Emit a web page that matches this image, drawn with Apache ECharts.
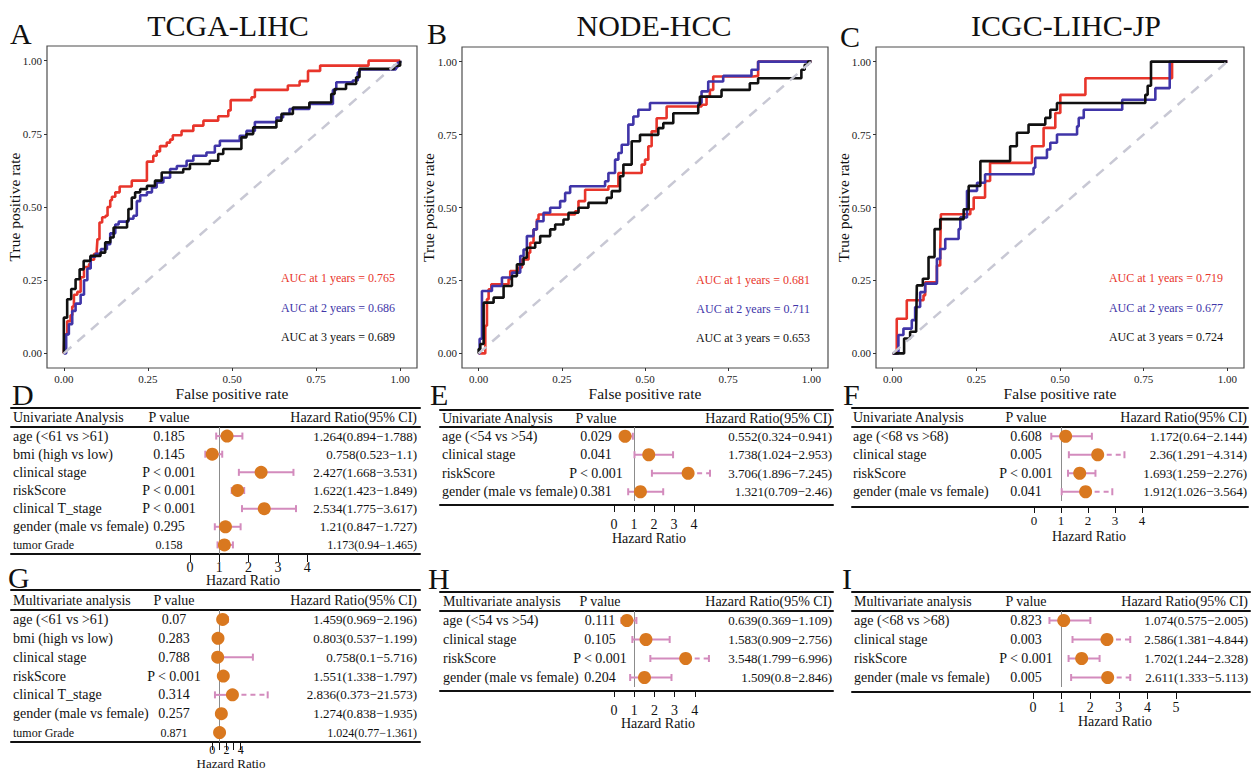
<!DOCTYPE html>
<html>
<head>
<meta charset="utf-8">
<script src="https://cdn.jsdelivr.net/npm/echarts@6/dist/echarts.min.js"></script>
<style>
html, body { margin: 0; padding: 0; background: #fff; }
#chart { width: 1255px; height: 770px; }
</style>
</head>
<body>
<div id="chart"></div>
<script>
// ---- ROC data (false positive rate, true positive rate) ----
const rocTitles = ['TCGA-LIHC', 'NODE-HCC', 'ICGC-LIHC-JP'];
const rocLetters = ['A', 'B', 'C'];
const rocYears = ['1 years', '2 years', '3 years'];
const rocTicks = [0, 0.25, 0.5, 0.75, 1];
const rocDiagonal = [[0, 0], [1, 1]];
const aucTcga = [0.765, 0.686, 0.689];
const aucNode = [0.681, 0.711, 0.653];
const aucIcgc = [0.719, 0.677, 0.724];

const tcga1y = [[0,0],[0.002,0.065],[0.01,0.11],[0.02,0.13],[0.025,0.16],[0.03,0.2],[0.04,0.21],[0.05,0.26],[0.06,0.295],[0.075,0.305],[0.08,0.32],[0.09,0.34],[0.098,0.355],[0.1,0.39],[0.106,0.447],[0.114,0.465],[0.124,0.47],[0.13,0.5],[0.138,0.523],[0.143,0.535],[0.153,0.55],[0.166,0.57],[0.202,0.59],[0.247,0.655],[0.266,0.675],[0.276,0.69],[0.286,0.708],[0.306,0.72],[0.316,0.73],[0.324,0.745],[0.35,0.76],[0.385,0.778],[0.415,0.795],[0.459,0.81],[0.489,0.83],[0.496,0.865],[0.558,0.875],[0.568,0.9],[0.666,0.915],[0.701,0.93],[0.726,0.965],[0.762,0.983],[0.906,1],[1,1]];
const tcga2y = [[0,0],[0.007,0.065],[0.015,0.1],[0.025,0.145],[0.035,0.17],[0.05,0.2],[0.06,0.25],[0.07,0.29],[0.08,0.33],[0.094,0.34],[0.11,0.356],[0.128,0.373],[0.138,0.41],[0.153,0.44],[0.163,0.45],[0.192,0.46],[0.207,0.47],[0.217,0.52],[0.227,0.54],[0.247,0.55],[0.262,0.567],[0.276,0.584],[0.296,0.6],[0.316,0.63],[0.336,0.64],[0.365,0.658],[0.385,0.675],[0.424,0.686],[0.449,0.709],[0.464,0.726],[0.523,0.743],[0.543,0.76],[0.568,0.79],[0.632,0.806],[0.652,0.818],[0.671,0.835],[0.73,0.852],[0.8,0.9],[0.81,0.926],[0.859,0.932],[0.874,0.96],[0.879,0.97],[0.987,0.977],[0.992,0.993],[1,1]];
const tcga3y = [[0,0],[0,0.122],[0.01,0.185],[0.022,0.22],[0.035,0.253],[0.047,0.287],[0.059,0.316],[0.079,0.333],[0.109,0.344],[0.123,0.379],[0.138,0.396],[0.148,0.43],[0.188,0.453],[0.192,0.493],[0.202,0.532],[0.212,0.55],[0.227,0.561],[0.247,0.572],[0.271,0.59],[0.291,0.618],[0.355,0.63],[0.375,0.647],[0.434,0.658],[0.459,0.681],[0.474,0.698],[0.528,0.738],[0.543,0.749],[0.563,0.772],[0.632,0.795],[0.647,0.818],[0.681,0.84],[0.73,0.857],[0.795,0.886],[0.805,0.903],[0.839,0.92],[0.869,0.943],[0.879,0.972],[0.982,0.983],[1,1]];

const node1y = [[0,0],[0.02,0],[0.02,0.095],[0.025,0.186],[0.03,0.22],[0.038,0.237],[0.09,0.254],[0.095,0.282],[0.12,0.294],[0.13,0.322],[0.15,0.345],[0.155,0.379],[0.165,0.425],[0.175,0.459],[0.18,0.476],[0.29,0.487],[0.3,0.522],[0.32,0.561],[0.39,0.573],[0.42,0.618],[0.49,0.647],[0.5,0.664],[0.51,0.71],[0.52,0.761],[0.535,0.806],[0.565,0.846],[0.67,0.852],[0.685,0.88],[0.695,0.903],[0.705,0.949],[0.825,0.951],[0.84,1],[1,1]];
const node2y = [[0,0],[0.003,0.05],[0.01,0.214],[0.04,0.231],[0.07,0.26],[0.1,0.277],[0.125,0.334],[0.135,0.356],[0.145,0.402],[0.165,0.425],[0.175,0.453],[0.195,0.482],[0.215,0.499],[0.245,0.522],[0.26,0.55],[0.275,0.573],[0.38,0.59],[0.39,0.618],[0.41,0.664],[0.42,0.687],[0.43,0.715],[0.45,0.784],[0.465,0.812],[0.48,0.835],[0.515,0.858],[0.67,0.898],[0.69,0.932],[0.735,0.951],[0.82,0.972],[0.84,1],[1,1]];
const node3y = [[0,0],[0,0.015],[0.005,0.032],[0.015,0.174],[0.045,0.191],[0.075,0.231],[0.1,0.265],[0.115,0.305],[0.135,0.328],[0.145,0.362],[0.17,0.379],[0.185,0.402],[0.215,0.425],[0.23,0.442],[0.255,0.459],[0.27,0.482],[0.3,0.499],[0.33,0.516],[0.385,0.533],[0.4,0.556],[0.425,0.607],[0.435,0.647],[0.46,0.727],[0.485,0.749],[0.54,0.772],[0.555,0.789],[0.585,0.823],[0.66,0.852],[0.665,0.88],[0.73,0.903],[0.815,0.926],[0.84,0.943],[0.97,0.972],[0.98,0.989],[0.99,1],[1,1]];

const icgc1y = [[0,0],[0.012,0],[0.012,0.119],[0.042,0.182],[0.092,0.199],[0.097,0.244],[0.132,0.301],[0.142,0.358],[0.144,0.477],[0.232,0.494],[0.242,0.534],[0.276,0.591],[0.291,0.653],[0.416,0.71],[0.451,0.773],[0.486,0.824],[0.501,0.886],[0.576,0.943],[0.835,1],[1,1]];
const icgc2y = [[0,0],[0.017,0.063],[0.032,0.085],[0.057,0.114],[0.067,0.159],[0.082,0.21],[0.097,0.239],[0.132,0.324],[0.142,0.358],[0.157,0.392],[0.197,0.426],[0.202,0.466],[0.222,0.557],[0.252,0.585],[0.276,0.614],[0.421,0.636],[0.426,0.67],[0.461,0.699],[0.471,0.722],[0.491,0.75],[0.551,0.778],[0.556,0.807],[0.571,0.835],[0.686,0.869],[0.785,0.909],[0.828,1],[1,1]];
const icgc3y = [[0,0],[0.034,0],[0.034,0.051],[0.052,0.074],[0.07,0.085],[0.072,0.233],[0.09,0.256],[0.107,0.33],[0.125,0.426],[0.142,0.46],[0.212,0.494],[0.227,0.574],[0.262,0.659],[0.351,0.71],[0.371,0.756],[0.406,0.784],[0.456,0.807],[0.471,0.835],[0.491,0.858],[0.755,0.886],[0.762,0.917],[0.772,1],[1,1]];

// ---- Cox regression tables ----
const forestLetters = ['D', 'E', 'F', 'G', 'H', 'I'];
const uniHeader = ['Univariate Analysis', 'P value', 'Hazard Ratio(95% CI)'];
const multiHeader = ['Multivariate analysis', 'P value', 'Hazard Ratio(95% CI)'];

const tcgaVars = ['age (<61 vs >61)', 'bmi (high vs low)', 'clinical stage', 'riskScore', 'clinical T_stage', 'gender (male vs female)', 'tumor Grade'];
const tcgaUniP = ['0.185', '0.145', 'P < 0.001', 'P < 0.001', 'P < 0.001', '0.295', '0.158'];
const tcgaUniHR = [1.264, 0.758, 2.427, 1.622, 2.534, 1.21, 1.173];
const tcgaUniLow = [0.894, 0.523, 1.668, 1.423, 1.775, 0.847, 0.94];
const tcgaUniHigh = [1.788, 1.1, 3.531, 1.849, 3.617, 1.727, 1.465];
const tcgaUniDrawnEnd = [0, 0, 0, 0, 0, 0, 0];
const tcgaMultiP = ['0.07', '0.283', '0.788', 'P < 0.001', '0.314', '0.257', '0.871'];
const tcgaMultiHR = [1.459, 0.803, 0.758, 1.551, 2.836, 1.274, 1.024];
const tcgaMultiLow = [0.969, 0.537, 0.1, 1.338, 0.373, 0.838, 0.77];
const tcgaMultiHigh = [2.196, 1.199, 5.716, 1.797, 21.573, 1.935, 1.361];
const tcgaMultiDrawnEnd = [0, 0, 0, 0, 7.8, 0, 0];

const nodeVars = ['age (<54 vs >54)', 'clinical stage', 'riskScore', 'gender (male vs female)'];
const nodeUniP = ['0.029', '0.041', 'P < 0.001', '0.381'];
const nodeUniHR = [0.552, 1.738, 3.706, 1.321];
const nodeUniLow = [0.324, 1.024, 1.896, 0.709];
const nodeUniHigh = [0.941, 2.953, 7.245, 2.46];
const nodeUniDrawnEnd = [0, 0, 4.8, 0];
const nodeMultiP = ['0.111', '0.105', 'P < 0.001', '0.204'];
const nodeMultiHR = [0.639, 1.583, 3.548, 1.509];
const nodeMultiLow = [0.369, 0.909, 1.799, 0.8];
const nodeMultiHigh = [1.109, 2.756, 6.996, 2.846];
const nodeMultiDrawnEnd = [0, 0, 4.7, 0];

const icgcVars = ['age (<68 vs >68)', 'clinical stage', 'riskScore', 'gender (male vs female)'];
const icgcUniP = ['0.608', '0.005', 'P < 0.001', '0.041'];
const icgcUniHR = [1.172, 2.36, 1.693, 1.912];
const icgcUniLow = [0.64, 1.291, 1.259, 1.026];
const icgcUniHigh = [2.144, 4.314, 2.276, 3.564];
const icgcUniDrawnEnd = [0, 3.35, 0, 2.9];
const icgcMultiP = ['0.823', '0.003', 'P < 0.001', '0.005'];
const icgcMultiHR = [1.074, 2.586, 1.702, 2.611];
const icgcMultiLow = [0.575, 1.381, 1.244, 1.333];
const icgcMultiHigh = [2.005, 4.844, 2.328, 5.113];
const icgcMultiDrawnEnd = [0, 3.4, 0, 3.4];

const hrTicks4 = [0, 1, 2, 3, 4];
const hrTicks5 = [0, 1, 2, 3, 4, 5];
const hrLabelsSparse = [0, 2, 4];

// ---- styling ----
const serif = '"Liberation Serif", "Times New Roman", serif';
const rocColors = ['#e8352b', '#4035a8', '#111111'];
const pointColor = '#d9781f';
const ciColor = '#d38bbd';

const grids = [], xAxes = [], yAxes = [], series = [], graphics = [];

function text(str, x, y, size, align, color) {
    graphics.push({
        type: 'text', x: x, y: y, silent: true,
        style: { text: str, fill: color || '#111', font: size + 'px ' + serif,
                 textAlign: align, textVerticalAlign: 'middle', align: align, verticalAlign: 'middle' }
    });
}

function addRoc(box, curves, aucs, aucRight, aucYs, nameGapY) {
    const gi = grids.length;
    grids.push({ left: box[0], top: box[1], width: box[2], height: box[3], show: true,
                 borderColor: '#4d4d4d', borderWidth: 1.2, backgroundColor: 'transparent', outerBoundsMode: 'none' });
    const xi = xAxes.length, yi = yAxes.length;
    const tickStyle = { show: true, length: 3, customValues: rocTicks, lineStyle: { color: '#333', width: 1 } };
    const labelStyle = { customValues: rocTicks, formatter: v => v.toFixed(2), fontSize: 11, color: '#222', fontFamily: serif };
    const nameStyle = { fontSize: 15.5, fontFamily: serif, color: '#111' };
    xAxes.push({ type: 'value', gridIndex: gi, min: -0.05, max: 1.05,
        axisLine: { show: false, onZero: false }, axisTick: tickStyle,
        axisLabel: Object.assign({ margin: 5 }, labelStyle), splitLine: { show: false },
        name: 'False positive rate', nameLocation: 'middle', nameGap: 17, nameMoveOverlap: false,
        nameTextStyle: nameStyle });
    yAxes.push({ type: 'value', gridIndex: gi, min: -0.05, max: 1.05,
        axisLine: { show: false, onZero: false }, axisTick: tickStyle,
        axisLabel: Object.assign({ margin: 5 }, labelStyle), splitLine: { show: false },
        name: 'True positive rate', nameLocation: 'middle', nameGap: nameGapY, nameMoveOverlap: false,
        nameTextStyle: nameStyle });
    curves.forEach((c, i) => series.push({
        type: 'line', xAxisIndex: xi, yAxisIndex: yi, data: c, step: 'end', symbol: 'none',
        lineStyle: { color: rocColors[i], width: 2.6 }, z: 2 + i, silent: true
    }));
    series.push({ type: 'line', xAxisIndex: xi, yAxisIndex: yi, data: rocDiagonal, symbol: 'none',
        lineStyle: { color: '#c8c8d4', width: 2.5, type: [10, 8] }, z: 6, silent: true });
    aucs.forEach((a, i) => text('AUC at ' + rocYears[i] + ' = ' + a.toFixed(3), aucRight, aucYs[i], 12, 'right', rocColors[i]));
}

function renderCI(params, api) {
    const lo = api.value(0), row = api.value(1), hi = api.value(2), est = api.value(3), end = api.value(4);
    const clipped = end > 0;
    const pLo = api.coord([lo, row]);
    const pEst = api.coord([est, row]);
    const pEnd = api.coord([clipped ? end : hi, row]);
    const cap = 3.5;
    const st = { stroke: ciColor, lineWidth: 2 };
    const children = [
        { type: 'line', shape: { x1: pLo[0], y1: pLo[1], x2: clipped ? pEst[0] : pEnd[0], y2: pLo[1] }, style: st },
        { type: 'line', shape: { x1: pLo[0], y1: pLo[1] - cap, x2: pLo[0], y2: pLo[1] + cap }, style: st },
        { type: 'line', shape: { x1: pEnd[0], y1: pEnd[1] - cap, x2: pEnd[0], y2: pEnd[1] + cap }, style: st }
    ];
    if (clipped) {
        children.push({ type: 'line', shape: { x1: pEst[0], y1: pEst[1], x2: pEnd[0], y2: pEnd[1] },
                        style: { stroke: ciColor, lineWidth: 2, lineDash: [5, 4] } });
    }
    return { type: 'group', children: children };
}

function addColumns(gi, cols, lay, small, hrSize) {
    const first = yAxes.length;
    const fmt = (v, i) => (i === small ? '{s|' + v + '}' : v);
    const font = size => ({ fontFamily: serif, fontSize: size, color: '#111', interval: 0, formatter: fmt,
                            rich: { s: { fontFamily: serif, fontSize: 12, color: '#111' } } });
    const base = { type: 'category', gridIndex: gi, inverse: true,
                   axisLine: { show: false }, axisTick: { show: false }, splitLine: { show: false } };
    yAxes.push(Object.assign({}, base, { data: cols[0], position: 'left',
        axisLabel: Object.assign(font(14), { inside: true, margin: lay.nameX - lay.L, align: 'left' }) }));
    yAxes.push(Object.assign({}, base, { data: cols[1], position: 'left', offset: lay.L - lay.pCenter,
        axisLabel: Object.assign(font(14), { inside: true, margin: 0, align: 'center' }) }));
    yAxes.push(Object.assign({}, base, { data: cols[2], position: 'right',
        axisLabel: Object.assign(font(hrSize), { inside: true, margin: lay.R - lay.hrRight, align: 'right' }) }));
    return first;
}

function addForest(lay, header, vars, pvals, hr, lo, hi, drawnEnd) {
    const n = vars.length;
    const xmin = (lay.L - lay.x0) / lay.ppu, xmax = (lay.R - lay.x0) / lay.ppu;
    const width = lay.R - lay.L;
    const small = lay.smallLast ? n - 1 : -1;
    const lineOnly = { show: true, onZero: false, lineStyle: { color: '#111', width: 2 } };

    // header row
    const hg = grids.length;
    grids.push({ left: lay.L, top: lay.headTop, width: width, height: lay.bodyTop - lay.headTop, outerBoundsMode: 'none' });
    xAxes.push({ type: 'value', gridIndex: hg, position: 'top', min: xmin, max: xmax, axisLine: lineOnly,
                 axisTick: { show: false }, axisLabel: { show: false }, splitLine: { show: false } });
    addColumns(hg, [[header[0]], [header[1]], [header[2]]], lay, -1, 14);

    // body rows
    const bg = grids.length;
    const bodyH = n * lay.rowH;
    grids.push({ left: lay.L, top: lay.bodyTop, width: width, height: bodyH, outerBoundsMode: 'none' });
    const bx = xAxes.length;
    xAxes.push({ type: 'value', gridIndex: bg, position: 'bottom', offset: lay.lineY - (lay.bodyTop + bodyH),
        min: xmin, max: xmax, axisLine: lineOnly,
        axisTick: { show: true, length: lay.tickLen, customValues: lay.ticks, lineStyle: { color: '#111', width: 1 } },
        axisLabel: { customValues: lay.labels, margin: lay.labelGap, fontSize: lay.tickFont || 14, fontFamily: serif, color: '#111' },
        splitLine: { show: false } });
    xAxes.push({ type: 'value', gridIndex: bg, position: 'top', min: xmin, max: xmax, axisLine: lineOnly,
                 axisTick: { show: false }, axisLabel: { show: false }, splitLine: { show: false } });
    const hrText = hr.map((h, i) => h + '(' + lo[i] + '\u2212' + hi[i] + ')');
    const by = addColumns(bg, [vars, pvals, hrText], lay, small, 13);

    series.push({ type: 'custom', xAxisIndex: bx, yAxisIndex: by, renderItem: renderCI, silent: true, z: 3,
        data: vars.map((v, i) => [lo[i], i, hi[i], hr[i], drawnEnd[i]]) });
    series.push({ type: 'scatter', xAxisIndex: bx, yAxisIndex: by, silent: true, z: 4,
        data: hr.map((h, i) => [h, i]), symbolSize: 13, itemStyle: { color: pointColor, opacity: 1 },
        markLine: { silent: true, z: 1, symbol: ['none', 'none'], label: { show: false },
                    lineStyle: { color: '#8c8c8c', width: 1, type: 'solid' }, data: [{ xAxis: 1 }] } });
    text('Hazard Ratio', lay.nameCenter[0], lay.nameCenter[1], lay.nameFont || 14, 'center');
}

// ---- ROC panels ----
addRoc([47, 46, 370, 322], [tcga1y, tcga2y, tcga3y], aucTcga, 395, [278, 308, 337], 25);
addRoc([462, 47, 366, 321], [node1y, node2y, node3y], aucNode, 810, [280, 309, 338], 26);
addRoc([876, 47, 368, 321], [icgc1y, icgc2y, icgc3y], aucIcgc, 1223, [278, 308, 337], 25);

text(rocTitles[0], 228, 25, 30, 'center');
text(rocTitles[1], 654, 25, 30, 'center');
text(rocTitles[2], 1066, 25, 30, 'center');
text(rocLetters[0], 10, 33, 30, 'left');
text(rocLetters[1], 427, 33, 30, 'left');
text(rocLetters[2], 840, 36, 30, 'left');

// ---- forest panels ----
const layD = { L: 11, R: 420, nameX: 13, pCenter: 169, hrRight: 417, headTop: 408, bodyTop: 427, rowH: 18.14, lineY: 554,
               x0: 190, ppu: 29.3, ticks: hrTicks4, labels: hrTicks4, tickLen: 8, labelGap: 6, nameCenter: [243, 580], smallLast: true };
const layE = { L: 440, R: 833, nameX: 442, pCenter: 596, hrRight: 832, headTop: 410, bodyTop: 427, rowH: 18.5, lineY: 505,
               x0: 614, ppu: 20.0, ticks: hrTicks4, labels: hrTicks4, tickLen: 7, labelGap: 12, nameCenter: [649, 538] };
const layF = { L: 852, R: 1248, nameX: 853, pCenter: 1026, hrRight: 1247, headTop: 408, bodyTop: 427, rowH: 18.5, lineY: 507,
               x0: 1034, ppu: 27, ticks: hrTicks4, labels: hrTicks4, tickLen: 6, labelGap: 7, tickFont: 13, nameCenter: [1089, 536] };
const layG = { L: 11, R: 420, nameX: 13, pCenter: 174, hrRight: 417, headTop: 590, bodyTop: 610, rowH: 18.86, lineY: 742,
               x0: 212.3, ppu: 7.1, ticks: hrTicks4, labels: hrLabelsSparse, tickLen: 8, labelGap: 2, tickFont: 12,
               nameCenter: [231, 763], nameFont: 13, smallLast: true };
const layH = { L: 440, R: 833, nameX: 443, pCenter: 600, hrRight: 832, headTop: 592, bodyTop: 611, rowH: 19, lineY: 691,
               x0: 614, ppu: 20.2, ticks: hrTicks4, labels: hrTicks4, tickLen: 6, labelGap: 12, nameCenter: [658, 723] };
const layI = { L: 852, R: 1250, nameX: 854, pCenter: 1026, hrRight: 1248, headTop: 592, bodyTop: 611, rowH: 19, lineY: 692,
               x0: 1033, ppu: 28.6, ticks: hrTicks5, labels: hrTicks5, tickLen: 7, labelGap: 8, nameCenter: [1115, 721] };

addForest(layD, uniHeader, tcgaVars, tcgaUniP, tcgaUniHR, tcgaUniLow, tcgaUniHigh, tcgaUniDrawnEnd);
addForest(layE, uniHeader, nodeVars, nodeUniP, nodeUniHR, nodeUniLow, nodeUniHigh, nodeUniDrawnEnd);
addForest(layF, uniHeader, icgcVars, icgcUniP, icgcUniHR, icgcUniLow, icgcUniHigh, icgcUniDrawnEnd);
addForest(layG, multiHeader, tcgaVars, tcgaMultiP, tcgaMultiHR, tcgaMultiLow, tcgaMultiHigh, tcgaMultiDrawnEnd);
addForest(layH, multiHeader, nodeVars, nodeMultiP, nodeMultiHR, nodeMultiLow, nodeMultiHigh, nodeMultiDrawnEnd);
addForest(layI, multiHeader, icgcVars, icgcMultiP, icgcMultiHR, icgcMultiLow, icgcMultiHigh, icgcMultiDrawnEnd);

text(forestLetters[0], 12, 394, 30, 'left');
text(forestLetters[1], 430, 394, 30, 'left');
text(forestLetters[2], 843, 394, 30, 'left');
text(forestLetters[3], 8, 577, 30, 'left');
text(forestLetters[4], 428, 578, 30, 'left');
text(forestLetters[5], 842, 578, 30, 'left');

const chart = echarts.init(document.getElementById('chart'), null, { renderer: 'svg' });
chart.setOption({
    backgroundColor: '#ffffff',
    animation: false,
    textStyle: { fontFamily: serif },
    grid: grids,
    xAxis: xAxes,
    yAxis: yAxes,
    series: series,
    graphic: graphics
});
</script>
</body>
</html>
